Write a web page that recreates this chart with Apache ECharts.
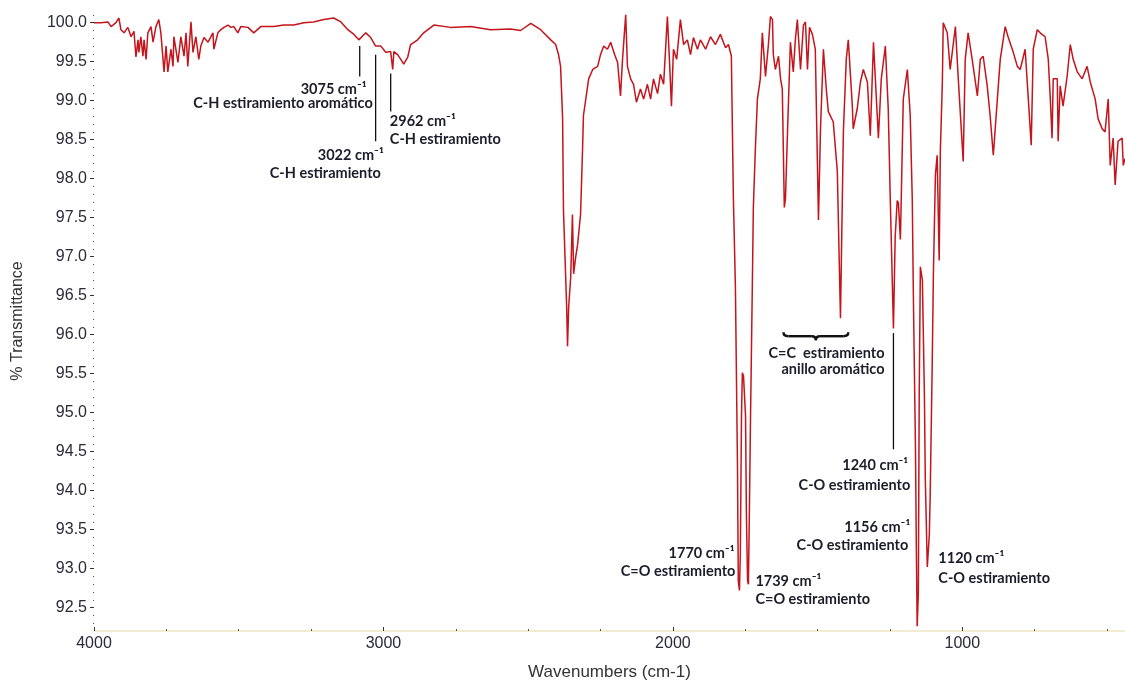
<!DOCTYPE html>
<html>
<head>
<meta charset="utf-8">
<script src="https://cdn.jsdelivr.net/npm/echarts@6/dist/echarts.min.js"></script>
<style>
html,body{margin:0;padding:0;background:#fff;}
#chart{width:1125px;height:686px;}
</style>
</head>
<body>
<div id="chart"></div>
<script>
// ---- data (wavenumber cm-1, % transmittance) ----
const wavenumbers = [4000,3976,3952,3941,3924,3914,3907,3896,3883,3872,3862,3855,3848,3845,3838,3831,3827,3820,3814,3803,3796,3786,3776,3769,3758,3751,3745,3734,3727,3724,3710,3700,3689,3682,3676,3665,3658,3648,3638,3631,3620,3606,3589,3586,3572,3562,3551,3537,3527,3517,3503,3493,3468,3448,3424,3379,3344,3310,3275,3241,3206,3172,3147,3123,3102,3085,3061,3044,3027,3009,2992,2975,2968,2964,2951,2940,2930,2916,2906,2882,2861,2826,2768,2699,2630,2561,2526,2491,2485,2457,2422,2405,2395,2388,2381,2378,2367,2364,2360,2353,2347,2343,2336,2329,2319,2312,2309,2291,2277,2260,2250,2239,2226,2215,2201,2191,2181,2174,2163,2157,2146,2136,2126,2112,2101,2088,2077,2067,2053,2043,2032,2019,2012,2005,1998,1987,1974,1963,1950,1939,1929,1915,1905,1887,1870,1853,1836,1818,1808,1798,1791,1784,1777,1774,1770,1767,1763,1760,1756,1749,1746,1742,1739,1735,1732,1725,1722,1715,1708,1698,1691,1680,1670,1663,1656,1653,1646,1635,1628,1622,1615,1611,1604,1594,1584,1577,1570,1559,1549,1542,1535,1528,1518,1508,1497,1490,1480,1470,1463,1446,1432,1421,1411,1401,1394,1380,1377,1363,1352,1342,1328,1318,1307,1290,1280,1266,1256,1249,1238,1232,1225,1221,1214,1211,1204,1190,1180,1173,1169,1162,1159,1156,1152,1149,1145,1138,1131,1128,1121,1114,1111,1104,1100,1093,1087,1080,1076,1069,1066,1052,1042,1024,1014,997,990,980,966,948,938,928,914,904,893,879,869,852,842,824,810,800,783,772,762,755,741,731,714,703,696,690,686,672,669,662,652,638,627,617,603,586,569,558,541,531,517,507,496,489,479,472,462,448,444,438];
const transmittance = [100.00,100.00,100.01,99.95,100.00,100.06,99.91,99.87,99.94,99.82,99.89,99.56,99.78,99.62,99.82,99.57,99.78,99.53,99.87,99.95,99.75,99.95,100.04,99.87,99.37,99.70,99.37,99.66,99.44,99.82,99.49,99.82,99.57,99.87,99.44,100.01,99.62,99.82,99.53,99.70,99.81,99.75,99.87,99.66,99.87,99.91,99.94,99.97,99.94,99.95,99.87,99.95,99.94,99.87,99.95,99.95,99.97,99.97,100.00,100.01,100.04,100.06,100.01,99.91,99.85,99.78,99.87,99.81,99.70,99.70,99.62,99.63,99.40,99.63,99.59,99.53,99.47,99.56,99.72,99.78,99.87,99.97,99.94,99.95,99.91,99.92,99.90,99.99,100.01,99.91,99.78,99.72,99.59,99.44,98.77,97.59,96.36,95.85,96.36,96.74,97.54,96.78,96.99,97.16,97.54,98.39,98.81,99.28,99.40,99.44,99.59,99.70,99.66,99.75,99.59,99.49,99.06,99.53,100.10,99.44,99.28,99.21,98.98,99.15,99.02,99.21,99.02,99.28,99.09,99.34,99.21,100.08,99.53,98.93,99.66,99.53,100.04,99.72,99.78,99.59,99.81,99.66,99.78,99.66,99.82,99.72,99.85,99.68,99.72,99.57,97.75,96.61,94.37,92.84,92.72,93.19,94.96,95.51,95.47,94.96,93.69,92.84,92.80,93.95,94.87,96.78,97.63,98.39,99.02,99.28,99.87,99.31,99.72,100.08,100.04,99.59,99.40,99.57,99.28,99.15,97.63,97.75,98.60,99.75,99.37,99.78,100.04,99.40,99.97,100.01,99.40,99.94,99.85,99.66,97.47,98.64,99.66,99.15,98.86,98.73,98.10,96.21,98.60,99.53,99.78,98.93,98.64,98.90,99.24,99.40,99.24,98.55,99.75,98.52,99.28,99.70,98.90,97.75,96.08,97.25,97.72,97.69,97.22,97.75,99.02,99.40,98.81,97.75,96.45,94.58,93.31,92.26,92.68,95.22,96.87,96.70,95.22,94.16,93.02,93.44,93.95,95.63,96.78,98.05,98.30,96.95,98.35,99.24,100.00,99.87,99.40,99.95,99.28,98.22,99.53,99.87,99.53,99.06,99.53,99.57,99.19,98.81,98.30,99.02,99.53,99.95,99.82,99.62,99.44,99.40,99.66,99.02,98.43,99.66,99.91,99.87,99.82,99.53,99.02,98.52,99.28,99.28,98.48,99.19,98.93,99.31,99.72,99.53,99.37,99.28,99.44,99.24,99.02,98.77,98.64,98.60,99.02,98.17,98.52,97.92,98.48,98.52,98.17,98.26];
const yTickValues = [92.5,93.0,93.5,94.0,94.5,95.0,95.5,96.0,96.5,97.0,97.5,98.0,98.5,99.0,99.5,100.0];
const yMinorValues = [92.3,92.4,92.6,92.7,92.8,92.9,93.1,93.2,93.3,93.4,93.6,93.7,93.8,93.9,94.1,94.2,94.3,94.4,94.6,94.7,94.8,94.9,95.1,95.2,95.3,95.4,95.6,95.7,95.8,95.9,96.1,96.2,96.3,96.4,96.6,96.7,96.8,96.9,97.1,97.2,97.3,97.4,97.6,97.7,97.8,97.9,98.1,98.2,98.3,98.4,98.6,98.7,98.8,98.9,99.1,99.2,99.3,99.4,99.6,99.7,99.8,99.9,100.1];
const xTickValues = [4000,3000,2000,1000];
const xMinorValues = [3750,3500,3250,2750,2500,2250,1750,1500,1250,750,500];

// annotation texts (anchored in data units)
const annotationTexts = [
  {t:'3075 cm\u207B\u00B9', wn:3058, v:99.15, align:'right'},
  {t:'C-H estiramiento aromático', wn:3037, v:98.97, align:'right'},
  {t:'3022 cm\u207B\u00B9', wn:2999, v:98.30, align:'right'},
  {t:'C-H estiramiento', wn:3009, v:98.07, align:'right'},
  {t:'2962 cm\u207B\u00B9', wn:2978, v:98.73, align:'left'},
  {t:'C-H estiramiento', wn:2978, v:98.50, align:'left'},
  {t:'C=C  estiramiento', wn:1670, v:95.76, align:'left'},
  {t:'anillo aromático', wn:1625, v:95.56, align:'left'},
  {t:'1240 cm\u207B\u00B9', wn:1187, v:94.33, align:'right'},
  {t:'C-O estiramiento', wn:1180, v:94.07, align:'right'},
  {t:'1156 cm\u207B\u00B9', wn:1180, v:93.53, align:'right'},
  {t:'C-O estiramiento', wn:1187, v:93.30, align:'right'},
  {t:'1770 cm\u207B\u00B9', wn:1787, v:93.20, align:'right'},
  {t:'C=O estiramiento', wn:1784, v:92.96, align:'right'},
  {t:'1739 cm\u207B\u00B9', wn:1715, v:92.84, align:'left'},
  {t:'C=O estiramiento', wn:1715, v:92.60, align:'left'},
  {t:'1120 cm\u207B\u00B9', wn:1083, v:93.13, align:'left'},
  {t:'C-O estiramiento', wn:1083, v:92.88, align:'left'}
];
const annotationLines = [
  {wn:3082, v1:99.70, v2:99.31},
  {wn:3027, v1:99.59, v2:98.48},
  {wn:2975, v1:99.35, v2:98.86},
  {wn:1238, v1:96.02, v2:94.53}
];
const brace = {wn1:1618, wn2:1394, v:95.98};

const chart = echarts.init(document.getElementById('chart'), null, {renderer:'canvas'});
const axisFont = 'Liberation Sans, Arial, sans-serif';
const data = wavenumbers.map((w,i)=>[w, transmittance[i]]);

chart.setOption({
  backgroundColor:'#ffffff',
  animation:false,
  grid:{left:94, right:0, top:11, bottom:49, containLabel:false},
  xAxis:[{
    type:'value', inverse:true, min:438, max:4000,
    name:'Wavenumbers (cm-1)', nameLocation:'middle', nameGap:33,
    nameTextStyle:{fontFamily:axisFont, fontSize:17, color:'#333'},
    axisLine:{show:true, lineStyle:{color:'#f3ead2', width:2}},
    axisTick:{show:true, inside:true, length:4, customValues:xTickValues, lineStyle:{color:'#333'}},
    axisLabel:{customValues:xTickValues, formatter:v=>String(v), fontFamily:axisFont, fontSize:16, color:'#2a2a3a', margin:5},
    splitLine:{show:false}
  },{
    type:'value', inverse:true, min:438, max:4000, position:'bottom',
    axisLine:{show:false},
    axisTick:{show:true, inside:true, length:2, customValues:xMinorValues, lineStyle:{color:'#555'}},
    axisLabel:{show:false}, splitLine:{show:false}
  }],
  yAxis:[{
    type:'value', min:92.2, max:100.15,
    name:'% Transmittance', nameLocation:'middle', nameGap:68, nameRotate:90,
    nameTextStyle:{fontFamily:axisFont, fontSize:16, color:'#333'},
    axisLine:{show:false},
    axisTick:{show:true, length:4, customValues:yTickValues, lineStyle:{color:'#333'}},
    axisLabel:{customValues:yTickValues, formatter:v=>v.toFixed(1), fontFamily:axisFont, fontSize:16, color:'#2a2a3a', margin:7},
    splitLine:{show:false}
  },{
    type:'value', min:92.2, max:100.15, position:'left',
    axisLine:{show:false},
    axisTick:{show:true, length:1, customValues:yMinorValues, lineStyle:{color:'#555'}},
    axisLabel:{show:false}, splitLine:{show:false}
  }],
  series:[{
    type:'line', data:data, xAxisIndex:0, yAxisIndex:0,
    showSymbol:false, symbol:'none', smooth:false,
    lineStyle:{color:'#c4141c', width:1.5},
    clip:true
  }]
});

function px(wn, v){ return chart.convertToPixel({seriesIndex:0}, [wn, v]); }
const g = [];
const annFont = 'bold 14.5px Lato, "Open Sans", sans-serif';
annotationTexts.forEach(a=>{
  const p = px(a.wn, a.v);
  g.push({type:'text', x:p[0], y:p[1], silent:true,
    style:{text:a.t, align:a.align, verticalAlign:'middle', font:annFont, fill:'#1c1c2b'}});
});
annotationLines.forEach(l=>{
  const p1 = px(l.wn, l.v1), p2 = px(l.wn, l.v2);
  g.push({type:'line', silent:true, shape:{x1:p1[0], y1:p1[1], x2:p2[0], y2:p2[1]}, style:{stroke:'#111', lineWidth:1.3}});
});
{
  const a = px(brace.wn1, brace.v), b = px(brace.wn2, brace.v);
  const y = a[1], x1 = a[0], x2 = b[0], xm = (x1+x2)/2;
  const st = {stroke:'#111', lineWidth:2.4, fill:null};
  g.push({type:'bezierCurve', silent:true, shape:{x1:x1, y1:y-4, x2:x1+5, y2:y, cpx1:x1, cpy1:y}, style:st});
  g.push({type:'line', silent:true, shape:{x1:x1+5, y1:y, x2:xm-4, y2:y}, style:st});
  g.push({type:'bezierCurve', silent:true, shape:{x1:xm-4, y1:y, x2:xm, y2:y+4, cpx1:xm, cpy1:y}, style:st});
  g.push({type:'bezierCurve', silent:true, shape:{x1:xm, y1:y+4, x2:xm+4, y2:y, cpx1:xm, cpy1:y}, style:st});
  g.push({type:'line', silent:true, shape:{x1:xm+4, y1:y, x2:x2-5, y2:y}, style:st});
  g.push({type:'bezierCurve', silent:true, shape:{x1:x2-5, y1:y, x2:x2, y2:y-4, cpx1:x2, cpy1:y}, style:st});
}
chart.setOption({graphic:g});
</script>
</body>
</html>
